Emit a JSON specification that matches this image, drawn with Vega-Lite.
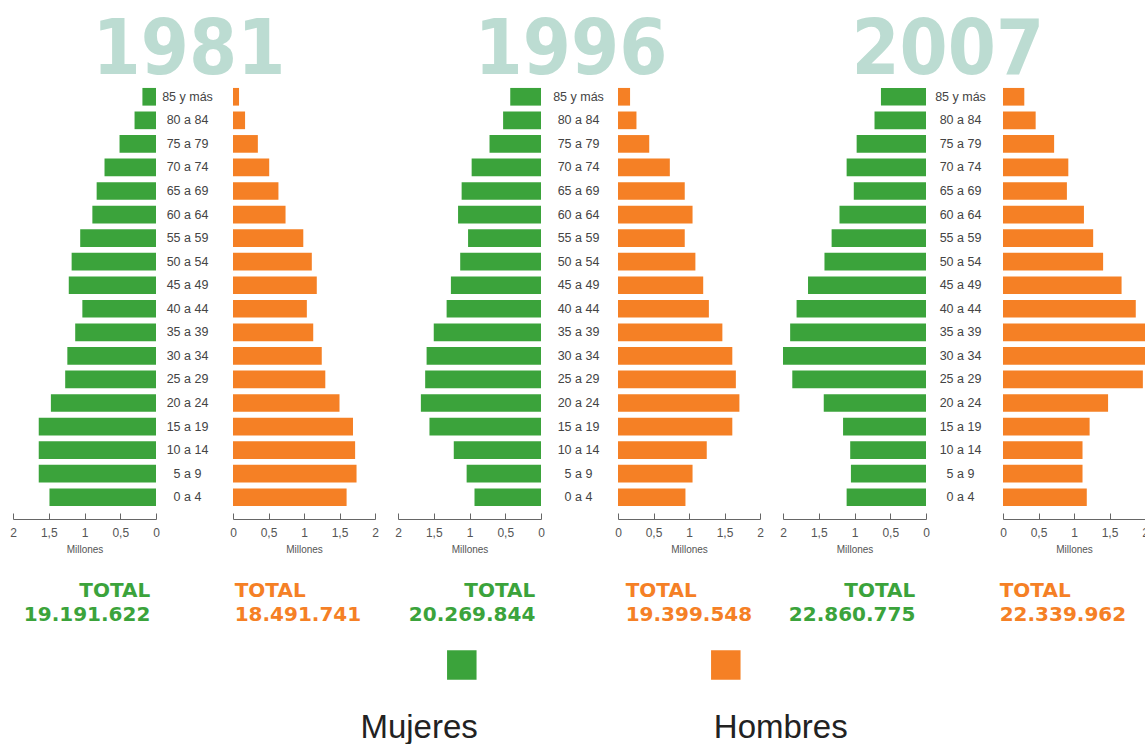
{
  "$schema": "https://vega.github.io/schema/vega-lite/v6.json",
  "background": "white",
  "padding": {"left": 9, "top": 12, "right": 0, "bottom": 0},
  "config": {
    "view": {"stroke": null},
    "axis": {
      "values": [0, 0.5, 1, 1.5, 2],
      "labelExpr": "replace(toString(datum.value), '.', ',')",
      "tickSize": -6, "offset": 10, "labelPadding": 14,
      "domainColor": "#666", "tickColor": "#666", "domainWidth": 1, "tickWidth": 1,
      "labelColor": "#555", "labelFont": "Liberation Sans", "labelFontSize": 12,
      "labelFlush": false, "labelOverlap": false, "grid": false,
      "titleFont": "Liberation Sans", "titleFontSize": 10, "titleFontWeight": "normal", "titleColor": "#555", "titlePadding": 6
    }
  },
  "datasets": {
    "pop": [
      {"year": 1981, "age": "85 y más", "f": 0.19, "m": 0.085},
      {"year": 1981, "age": "80 a 84", "f": 0.30, "m": 0.17},
      {"year": 1981, "age": "75 a 79", "f": 0.51, "m": 0.35},
      {"year": 1981, "age": "70 a 74", "f": 0.72, "m": 0.51},
      {"year": 1981, "age": "65 a 69", "f": 0.83, "m": 0.64},
      {"year": 1981, "age": "60 a 64", "f": 0.89, "m": 0.74},
      {"year": 1981, "age": "55 a 59", "f": 1.06, "m": 0.99},
      {"year": 1981, "age": "50 a 54", "f": 1.18, "m": 1.11},
      {"year": 1981, "age": "45 a 49", "f": 1.22, "m": 1.18},
      {"year": 1981, "age": "40 a 44", "f": 1.03, "m": 1.04},
      {"year": 1981, "age": "35 a 39", "f": 1.13, "m": 1.13},
      {"year": 1981, "age": "30 a 34", "f": 1.24, "m": 1.25},
      {"year": 1981, "age": "25 a 29", "f": 1.27, "m": 1.30},
      {"year": 1981, "age": "20 a 24", "f": 1.47, "m": 1.50},
      {"year": 1981, "age": "15 a 19", "f": 1.64, "m": 1.69},
      {"year": 1981, "age": "10 a 14", "f": 1.64, "m": 1.72},
      {"year": 1981, "age": "5 a 9", "f": 1.64, "m": 1.74},
      {"year": 1981, "age": "0 a 4", "f": 1.49, "m": 1.60},
      {"year": 1996, "age": "85 y más", "f": 0.43, "m": 0.17},
      {"year": 1996, "age": "80 a 84", "f": 0.53, "m": 0.26},
      {"year": 1996, "age": "75 a 79", "f": 0.72, "m": 0.44},
      {"year": 1996, "age": "70 a 74", "f": 0.97, "m": 0.73},
      {"year": 1996, "age": "65 a 69", "f": 1.11, "m": 0.94},
      {"year": 1996, "age": "60 a 64", "f": 1.16, "m": 1.05},
      {"year": 1996, "age": "55 a 59", "f": 1.02, "m": 0.94},
      {"year": 1996, "age": "50 a 54", "f": 1.13, "m": 1.09},
      {"year": 1996, "age": "45 a 49", "f": 1.26, "m": 1.20},
      {"year": 1996, "age": "40 a 44", "f": 1.32, "m": 1.28},
      {"year": 1996, "age": "35 a 39", "f": 1.50, "m": 1.47},
      {"year": 1996, "age": "30 a 34", "f": 1.60, "m": 1.61},
      {"year": 1996, "age": "25 a 29", "f": 1.62, "m": 1.66},
      {"year": 1996, "age": "20 a 24", "f": 1.68, "m": 1.71},
      {"year": 1996, "age": "15 a 19", "f": 1.56, "m": 1.61},
      {"year": 1996, "age": "10 a 14", "f": 1.22, "m": 1.25},
      {"year": 1996, "age": "5 a 9", "f": 1.04, "m": 1.05},
      {"year": 1996, "age": "0 a 4", "f": 0.93, "m": 0.95},
      {"year": 2007, "age": "85 y más", "f": 0.63, "m": 0.30},
      {"year": 2007, "age": "80 a 84", "f": 0.72, "m": 0.46},
      {"year": 2007, "age": "75 a 79", "f": 0.97, "m": 0.72},
      {"year": 2007, "age": "70 a 74", "f": 1.11, "m": 0.92},
      {"year": 2007, "age": "65 a 69", "f": 1.01, "m": 0.90},
      {"year": 2007, "age": "60 a 64", "f": 1.21, "m": 1.14},
      {"year": 2007, "age": "55 a 59", "f": 1.32, "m": 1.27},
      {"year": 2007, "age": "50 a 54", "f": 1.42, "m": 1.41},
      {"year": 2007, "age": "45 a 49", "f": 1.65, "m": 1.67},
      {"year": 2007, "age": "40 a 44", "f": 1.81, "m": 1.87},
      {"year": 2007, "age": "35 a 39", "f": 1.90, "m": 2.00},
      {"year": 2007, "age": "30 a 34", "f": 2.00, "m": 2.07},
      {"year": 2007, "age": "25 a 29", "f": 1.87, "m": 1.97},
      {"year": 2007, "age": "20 a 24", "f": 1.43, "m": 1.48},
      {"year": 2007, "age": "15 a 19", "f": 1.16, "m": 1.22},
      {"year": 2007, "age": "10 a 14", "f": 1.06, "m": 1.12},
      {"year": 2007, "age": "5 a 9", "f": 1.05, "m": 1.12},
      {"year": 2007, "age": "0 a 4", "f": 1.11, "m": 1.18}
    ]
  },
  "spacing": 10,
  "vconcat": [
    {
      "spacing": 15,
      "hconcat": [
        {
          "title": {"text": "1981", "font": "DejaVu Sans Condensed", "fontSize": 77, "fontWeight": "bold", "color": "#bcdcd2", "anchor": "middle", "dx": -5, "offset": -5},
          "bounds": "flush", "spacing": 0,
          "hconcat": [
            {
              "width": 143, "height": 424,
              "data": {"name": "pop"}, "transform": [{"filter": "datum.year == 1981"}],
              "mark": {"type": "bar", "color": "#3ba33b"},
              "encoding": {
                "y": {"field": "age", "type": "nominal", "sort": null, "axis": null, "scale": {"paddingInner": 0.25, "paddingOuter": 0.125}},
                "x": {"field": "f", "type": "quantitative", "scale": {"domain": [0, 2], "reverse": true}, "axis": {"title": "Millones"}}
              },
              "title": {"text": ["TOTAL", "19.191.622"], "orient": "bottom", "anchor": "end", "dx": -9, "color": "#3ba33b", "font": "DejaVu Sans", "fontSize": 20, "fontWeight": "bold", "lineHeight": 24, "offset": 27}
            },
            {
              "width": 77, "height": 424,
              "data": {"name": "pop"}, "transform": [{"filter": "datum.year == 1981"}],
              "mark": {"type": "text", "font": "Liberation Sans", "fontSize": 12.5, "color": "#444", "dx": -7},
              "encoding": {
                "y": {"field": "age", "type": "nominal", "sort": null, "axis": null, "scale": {"paddingInner": 0.25, "paddingOuter": 0.125}},
                "text": {"field": "age"}
              }
            },
            {
              "width": 142, "height": 424,
              "data": {"name": "pop"}, "transform": [{"filter": "datum.year == 1981"}],
              "mark": {"type": "bar", "color": "#f58025"},
              "encoding": {
                "y": {"field": "age", "type": "nominal", "sort": null, "axis": null, "scale": {"paddingInner": 0.25, "paddingOuter": 0.125}},
                "x": {"field": "m", "type": "quantitative", "scale": {"domain": [0, 2]}, "axis": {"title": "Millones"}}
              },
              "title": {"text": ["TOTAL", "18.491.741"], "orient": "bottom", "anchor": "start", "dx": 5, "color": "#f58025", "font": "DejaVu Sans", "fontSize": 20, "fontWeight": "bold", "lineHeight": 24, "offset": 27}
            }
          ]
        },
        {
          "title": {"text": "1996", "font": "DejaVu Sans Condensed", "fontSize": 77, "fontWeight": "bold", "color": "#bcdcd2", "anchor": "middle", "dx": -8, "offset": -5},
          "bounds": "flush", "spacing": 0,
          "hconcat": [
            {
              "width": 143, "height": 424,
              "data": {"name": "pop"}, "transform": [{"filter": "datum.year == 1996"}],
              "mark": {"type": "bar", "color": "#3ba33b"},
              "encoding": {
                "y": {"field": "age", "type": "nominal", "sort": null, "axis": null, "scale": {"paddingInner": 0.25, "paddingOuter": 0.125}},
                "x": {"field": "f", "type": "quantitative", "scale": {"domain": [0, 2], "reverse": true}, "axis": {"title": "Millones"}}
              },
              "title": {"text": ["TOTAL", "20.269.844"], "orient": "bottom", "anchor": "end", "dx": -9, "color": "#3ba33b", "font": "DejaVu Sans", "fontSize": 20, "fontWeight": "bold", "lineHeight": 24, "offset": 27}
            },
            {
              "width": 77, "height": 424,
              "data": {"name": "pop"}, "transform": [{"filter": "datum.year == 1996"}],
              "mark": {"type": "text", "font": "Liberation Sans", "fontSize": 12.5, "color": "#444", "dx": -1},
              "encoding": {
                "y": {"field": "age", "type": "nominal", "sort": null, "axis": null, "scale": {"paddingInner": 0.25, "paddingOuter": 0.125}},
                "text": {"field": "age"}
              }
            },
            {
              "width": 142, "height": 424,
              "data": {"name": "pop"}, "transform": [{"filter": "datum.year == 1996"}],
              "mark": {"type": "bar", "color": "#f58025"},
              "encoding": {
                "y": {"field": "age", "type": "nominal", "sort": null, "axis": null, "scale": {"paddingInner": 0.25, "paddingOuter": 0.125}},
                "x": {"field": "m", "type": "quantitative", "scale": {"domain": [0, 2]}, "axis": {"title": "Millones"}}
              },
              "title": {"text": ["TOTAL", "19.399.548"], "orient": "bottom", "anchor": "start", "dx": 11, "color": "#f58025", "font": "DejaVu Sans", "fontSize": 20, "fontWeight": "bold", "lineHeight": 24, "offset": 27}
            }
          ]
        },
        {
          "title": {"text": "2007", "font": "DejaVu Sans Condensed", "fontSize": 77, "fontWeight": "bold", "color": "#bcdcd2", "anchor": "middle", "dx": -17, "offset": -5},
          "bounds": "flush", "spacing": 0,
          "hconcat": [
            {
              "width": 143, "height": 424,
              "data": {"name": "pop"}, "transform": [{"filter": "datum.year == 2007"}],
              "mark": {"type": "bar", "color": "#3ba33b"},
              "encoding": {
                "y": {"field": "age", "type": "nominal", "sort": null, "axis": null, "scale": {"paddingInner": 0.25, "paddingOuter": 0.125}},
                "x": {"field": "f", "type": "quantitative", "scale": {"domain": [0, 2], "reverse": true}, "axis": {"title": "Millones"}}
              },
              "title": {"text": ["TOTAL", "22.860.775"], "orient": "bottom", "anchor": "end", "dx": -14, "color": "#3ba33b", "font": "DejaVu Sans", "fontSize": 20, "fontWeight": "bold", "lineHeight": 24, "offset": 27}
            },
            {
              "width": 77, "height": 424,
              "data": {"name": "pop"}, "transform": [{"filter": "datum.year == 2007"}],
              "mark": {"type": "text", "font": "Liberation Sans", "fontSize": 12.5, "color": "#444", "dx": -4},
              "encoding": {
                "y": {"field": "age", "type": "nominal", "sort": null, "axis": null, "scale": {"paddingInner": 0.25, "paddingOuter": 0.125}},
                "text": {"field": "age"}
              }
            },
            {
              "width": 142, "height": 424,
              "data": {"name": "pop"}, "transform": [{"filter": "datum.year == 2007"}],
              "mark": {"type": "bar", "color": "#f58025"},
              "encoding": {
                "y": {"field": "age", "type": "nominal", "sort": null, "axis": null, "scale": {"paddingInner": 0.25, "paddingOuter": 0.125}},
                "x": {"field": "m", "type": "quantitative", "scale": {"domain": [0, 2]}, "axis": {"title": "Millones"}}
              },
              "title": {"text": ["TOTAL", "22.339.962"], "orient": "bottom", "anchor": "start", "dx": 0, "color": "#f58025", "font": "DejaVu Sans", "fontSize": 20, "fontWeight": "bold", "lineHeight": 24, "offset": 27}
            }
          ]
        }
      ]
    },
    {
      "width": 792, "height": 60,
      "data": {"values": [{"sexo": "Mujeres"}, {"sexo": "Hombres"}]},
      "encoding": {
        "x": {"field": "sexo", "type": "nominal", "axis": null, "scale": {"type": "point", "domain": ["Mujeres", "Hombres"], "padding": 1, "align": 0.85}}
      },
      "layer": [
        {
          "mark": {"type": "square", "size": 870, "filled": true, "opacity": 1},
          "encoding": {"color": {"field": "sexo", "type": "nominal", "scale": {"domain": ["Mujeres", "Hombres"], "range": ["#3ba33b", "#f58025"]}, "legend": null}}
        },
        {
          "transform": [{"filter": "datum.sexo == 'Mujeres'"}],
          "mark": {"type": "text", "align": "right", "dx": 16, "dy": 63, "font": "Liberation Sans", "fontSize": 33, "color": "#222"},
          "encoding": {"text": {"field": "sexo"}}
        },
        {
          "transform": [{"filter": "datum.sexo == 'Hombres'"}],
          "mark": {"type": "text", "align": "left", "dx": -12, "dy": 63, "font": "Liberation Sans", "fontSize": 33, "color": "#222"},
          "encoding": {"text": {"field": "sexo"}}
        }
      ]
    }
  ]
}
